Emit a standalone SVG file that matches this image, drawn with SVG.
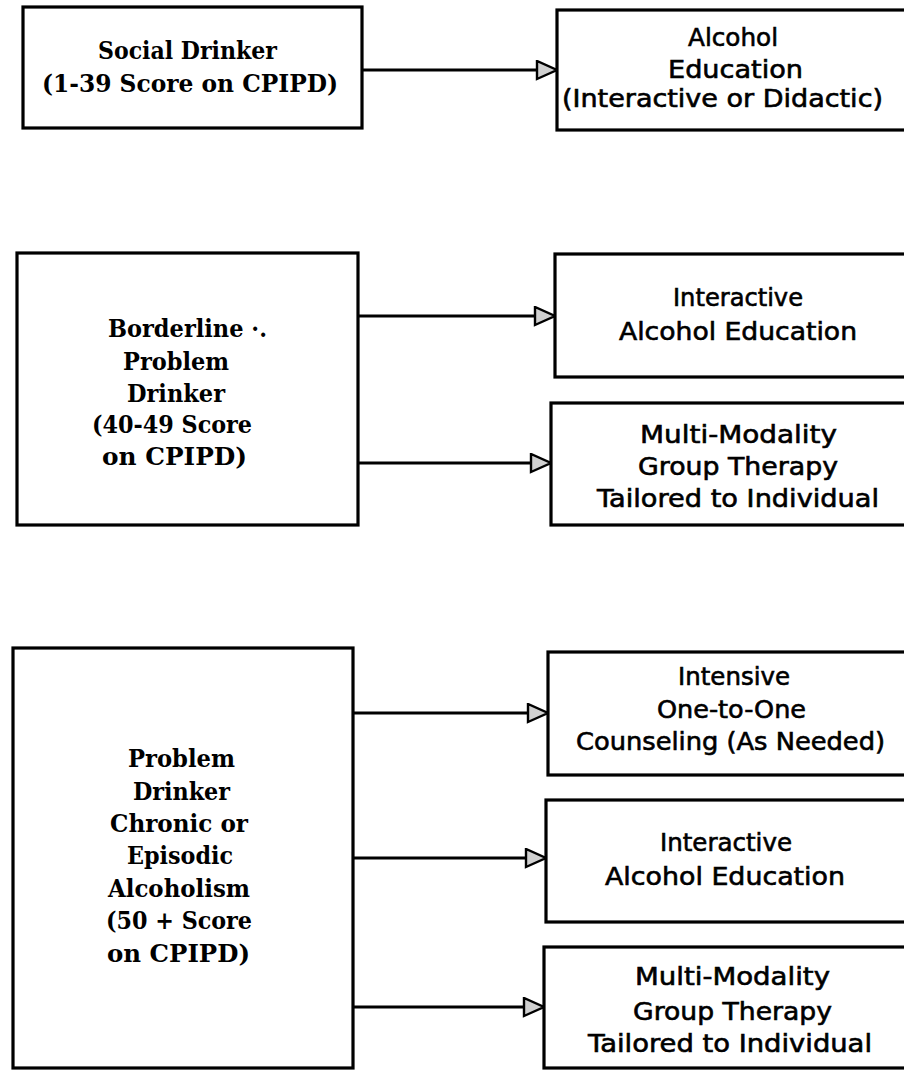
<svg xmlns="http://www.w3.org/2000/svg" width="904" height="1071" viewBox="0 0 904 1071">
<defs>
<style>
.box{fill:#fff;stroke:#000;stroke-width:3.2}
.conn{fill:none;stroke:#000;stroke-width:3}
.lt{font-family:"DejaVu Serif","Liberation Serif",serif;font-weight:bold;font-size:25px;fill:#000;text-anchor:start}
.rt{font-family:"DejaVu Sans","Liberation Sans",sans-serif;font-size:24px;fill:#000;stroke:#000;stroke-width:0.6;text-anchor:start}
</style>
<marker id="ah" markerUnits="userSpaceOnUse" markerWidth="26" markerHeight="22" refX="22" refY="10" orient="auto" viewBox="0 0 26 22">
<path d="M2,1 L22,10 L2,19 Z" fill="#d0d0d0" stroke="#000" stroke-width="2.4" stroke-linejoin="miter"/>
</marker>
</defs>
<rect width="904" height="1071" fill="#fff"/>

<g id="connectors">
<line class="conn" x1="362" y1="70" x2="557" y2="70" marker-end="url(#ah)"/>
<line class="conn" x1="358" y1="316" x2="555" y2="316" marker-end="url(#ah)"/>
<line class="conn" x1="358" y1="463" x2="551" y2="463" marker-end="url(#ah)"/>
<line class="conn" x1="353" y1="713" x2="548" y2="713" marker-end="url(#ah)"/>
<line class="conn" x1="353" y1="858" x2="546" y2="858" marker-end="url(#ah)"/>
<line class="conn" x1="353" y1="1007" x2="544" y2="1007" marker-end="url(#ah)"/>
</g>

<g id="social-drinker">
<rect class="box" x="23" y="7" width="339" height="121"/>
<text class="lt" x="98" y="59" textLength="179" lengthAdjust="spacingAndGlyphs">Social Drinker</text>
<text class="lt" x="42" y="92" textLength="296" lengthAdjust="spacingAndGlyphs">(1-39 Score on CPIPD)</text>
</g>

<g id="alcohol-education">
<rect class="box" x="557" y="10" width="352" height="120"/>
<text class="rt" x="688" y="46" textLength="90" lengthAdjust="spacingAndGlyphs">Alcohol</text>
<text class="rt" x="668" y="78" textLength="135" lengthAdjust="spacingAndGlyphs">Education</text>
<text class="rt" x="562" y="107" textLength="321" lengthAdjust="spacingAndGlyphs">(Interactive or Didactic)</text>
</g>

<g id="borderline">
<rect class="box" x="17" y="253" width="341" height="272"/>
<text class="lt" x="108" y="337" textLength="159" lengthAdjust="spacingAndGlyphs">Borderline ·.</text>
<text class="lt" x="123" y="370" textLength="106" lengthAdjust="spacingAndGlyphs">Problem</text>
<text class="lt" x="127" y="402" textLength="98" lengthAdjust="spacingAndGlyphs">Drinker</text>
<text class="lt" x="92" y="433" textLength="160" lengthAdjust="spacingAndGlyphs">(40-49 Score</text>
<text class="lt" x="102" y="465" textLength="145" lengthAdjust="spacingAndGlyphs">on CPIPD)</text>
</g>

<g id="interactive-education-1">
<rect class="box" x="555" y="254" width="354" height="123"/>
<text class="rt" x="673" y="306" textLength="130" lengthAdjust="spacingAndGlyphs">Interactive</text>
<text class="rt" x="619" y="340" textLength="238" lengthAdjust="spacingAndGlyphs">Alcohol Education</text>
</g>

<g id="multi-modality-1">
<rect class="box" x="551" y="403" width="358" height="122"/>
<text class="rt" x="640" y="443" textLength="197" lengthAdjust="spacingAndGlyphs">Multi-Modality</text>
<text class="rt" x="638" y="475" textLength="200" lengthAdjust="spacingAndGlyphs">Group Therapy</text>
<text class="rt" x="597" y="507" textLength="282" lengthAdjust="spacingAndGlyphs">Tailored to Individual</text>
</g>

<g id="problem-drinker">
<rect class="box" x="13" y="648" width="340" height="420"/>
<text class="lt" x="128" y="767" textLength="107" lengthAdjust="spacingAndGlyphs">Problem</text>
<text class="lt" x="133" y="800" textLength="97" lengthAdjust="spacingAndGlyphs">Drinker</text>
<text class="lt" x="110" y="832" textLength="138" lengthAdjust="spacingAndGlyphs">Chronic or</text>
<text class="lt" x="127" y="864" textLength="106" lengthAdjust="spacingAndGlyphs">Episodic</text>
<text class="lt" x="108" y="897" textLength="142" lengthAdjust="spacingAndGlyphs">Alcoholism</text>
<text class="lt" x="106" y="929" textLength="146" lengthAdjust="spacingAndGlyphs">(50 + Score</text>
<text class="lt" x="107" y="962" textLength="143" lengthAdjust="spacingAndGlyphs">on CPIPD)</text>
</g>

<g id="intensive-counseling">
<rect class="box" x="548" y="652" width="361" height="123"/>
<text class="rt" x="678" y="685" textLength="112" lengthAdjust="spacingAndGlyphs">Intensive</text>
<text class="rt" x="657" y="718" textLength="149" lengthAdjust="spacingAndGlyphs">One-to-One</text>
<text class="rt" x="576" y="750" textLength="309" lengthAdjust="spacingAndGlyphs">Counseling (As Needed)</text>
</g>

<g id="interactive-education-2">
<rect class="box" x="546" y="800" width="363" height="122"/>
<text class="rt" x="660" y="851" textLength="132" lengthAdjust="spacingAndGlyphs">Interactive</text>
<text class="rt" x="605" y="885" textLength="240" lengthAdjust="spacingAndGlyphs">Alcohol Education</text>
</g>

<g id="multi-modality-2">
<rect class="box" x="544" y="947" width="365" height="121"/>
<text class="rt" x="635" y="985" textLength="195" lengthAdjust="spacingAndGlyphs">Multi-Modality</text>
<text class="rt" x="633" y="1020" textLength="199" lengthAdjust="spacingAndGlyphs">Group Therapy</text>
<text class="rt" x="588" y="1052" textLength="284" lengthAdjust="spacingAndGlyphs">Tailored to Individual</text>
</g>
</svg>
